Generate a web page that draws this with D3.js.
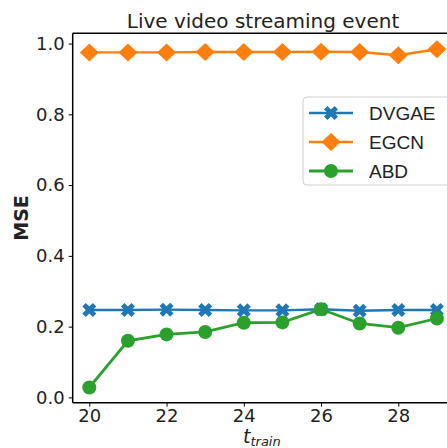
<!DOCTYPE html>
<html>
<head>
<meta charset="utf-8">
<script src="https://cdn.jsdelivr.net/npm/d3@7"></script>
<style>
  body { margin: 0; background: #fff; }
  svg { display: block; font-family: "DejaVu Sans", sans-serif; }
</style>
</head>
<body>
<div id="chart"></div>
<script>
// chart data
const tTrain = [20, 21, 22, 23, 24, 25, 26, 27, 28, 29];
const dvgae = [0.247, 0.247, 0.248, 0.247, 0.246, 0.246, 0.249, 0.245, 0.247, 0.247];
const egcn = [0.975, 0.975, 0.975, 0.976, 0.976, 0.976, 0.977, 0.976, 0.967, 0.984];
const abd = [0.028, 0.160, 0.178, 0.185, 0.211, 0.212, 0.249, 0.209, 0.197, 0.223];
const xTicks = [20, 22, 24, 26, 28];
const yTicks = [0.0, 0.2, 0.4, 0.6, 0.8, 1.0];

const seriesList = [
  { name: "DVGAE", values: dvgae, color: "#1f77b4", marker: "X", width: 2.4 },
  { name: "EGCN", values: egcn, color: "#ff7f0e", marker: "D", width: 2.4 },
  { name: "ABD", values: abd, color: "#2ca02c", marker: "o", width: 2.8 }
];

const W = 447, H = 448;
const plot = { left: 72.7, right: 454.3, top: 33.3, bottom: 402.7 };

const svg = d3.select("#chart").append("svg")
  .attr("width", W)
  .attr("height", H);

const x = d3.scaleLinear().domain([19.57, 29.45]).range([plot.left, plot.right]);
const y = d3.scaleLinear().domain([-0.015, 1.029]).range([plot.bottom, plot.top]);

// marker shapes
function markerPath(type) {
  if (type === "D") {
    return "M0,-9L9.5,0L0,9L-9.5,0Z";
  }
  if (type === "o") {
    return d3.symbol(d3.symbolCircle, Math.PI * 7 * 7)();
  }
  // filled X (chunky, like matplotlib 'X')
  const a = 7, b = 3.4;
  const pts = [];
  const base = [[b, 0], [a, a - b], [a - b, a], [0, b]];
  for (let k = 0; k < 4; k++) {
    const ang = k * Math.PI / 2;
    base.forEach(p => {
      pts.push([p[0] * Math.cos(ang) - p[1] * Math.sin(ang), p[0] * Math.sin(ang) + p[1] * Math.cos(ang)]);
    });
  }
  return "M" + pts.map(p => p[0].toFixed(2) + "," + p[1].toFixed(2)).join("L") + "Z";
}

const line = d3.line().x((d, i) => x(tTrain[i])).y(d => y(d));

const lines = svg.append("g");
seriesList.forEach(s => {
  const g = lines.append("g");
  g.append("path")
    .datum(s.values)
    .attr("fill", "none")
    .attr("stroke", s.color)
    .attr("stroke-width", s.width)
    .attr("d", line);
  g.selectAll("path.mk")
    .data(s.values)
    .enter().append("path")
    .attr("class", "mk")
    .attr("d", markerPath(s.marker))
    .attr("fill", s.color)
    .attr("transform", (d, i) => `translate(${x(tTrain[i])},${y(d)})`);
});

// axes
const xAxis = svg.append("g")
  .attr("transform", `translate(0,${plot.bottom})`)
  .call(d3.axisBottom(x).tickValues(xTicks).tickFormat(d3.format("d")).tickSizeOuter(0).tickSize(4).tickPadding(3));
const yAxis = svg.append("g")
  .attr("transform", `translate(${plot.left},0)`)
  .call(d3.axisLeft(y).tickValues(yTicks).tickFormat(d3.format(".1f")).tickSizeOuter(0).tickSize(4).tickPadding(4));
[xAxis, yAxis].forEach(a => {
  a.select(".domain").remove();
  a.selectAll("line").attr("stroke", "#000").attr("stroke-width", 1);
  a.selectAll("text").attr("fill", "#222").style("font-size", "18px").style("font-family", "DejaVu Sans, sans-serif");
});

// spines
svg.append("line").attr("x1", plot.left).attr("x2", plot.left).attr("y1", plot.top).attr("y2", plot.bottom)
  .attr("stroke", "#000").attr("stroke-width", 1.5);
svg.append("line").attr("x1", plot.left).attr("x2", plot.right).attr("y1", plot.top).attr("y2", plot.top)
  .attr("stroke", "#000").attr("stroke-width", 1.5);
svg.append("line").attr("x1", plot.left).attr("x2", plot.right).attr("y1", plot.bottom).attr("y2", plot.bottom)
  .attr("stroke", "#000").attr("stroke-width", 1.5);

// title
svg.append("text")
  .attr("x", 263).attr("y", 28)
  .attr("text-anchor", "middle")
  .style("font-size", "20px")
  .attr("fill", "#222")
  .text("Live video streaming event");

// y label
svg.append("text")
  .attr("transform", "translate(28,218) rotate(-90)")
  .attr("text-anchor", "middle")
  .style("font-size", "19px")
  .style("font-weight", "bold")
  .attr("fill", "#222")
  .text("MSE");

// x label
const xl = svg.append("text")
  .attr("x", 243).attr("y", 443)
  .attr("fill", "#222")
  .style("font-style", "italic");
xl.append("tspan").style("font-size", "19px").text("t");
xl.append("tspan").attr("dy", 3).style("font-size", "13px").text("train");

// legend
const legend = svg.append("g").attr("transform", "translate(303,97)");
legend.append("rect")
  .attr("width", 160).attr("height", 88).attr("rx", 4)
  .attr("fill", "#fff").attr("fill-opacity", 0.8)
  .attr("stroke", "#d0d0d0").attr("stroke-width", 1);
seriesList.forEach((s, i) => {
  const row = legend.append("g").attr("transform", `translate(0,${16 + i * 29})`);
  row.append("line").attr("x1", 6).attr("x2", 50).attr("y1", 0).attr("y2", 0)
    .attr("stroke", s.color).attr("stroke-width", s.width);
  row.append("path").attr("d", markerPath(s.marker)).attr("fill", s.color)
    .attr("transform", "translate(28,0)");
  row.append("text").attr("x", 66).attr("y", 0).attr("dy", "0.36em")
    .style("font-size", "19px").style("font-family", "Liberation Sans, Arial, sans-serif")
    .attr("fill", "#222")
    .text(s.name);
});
</script>
</body>
</html>
